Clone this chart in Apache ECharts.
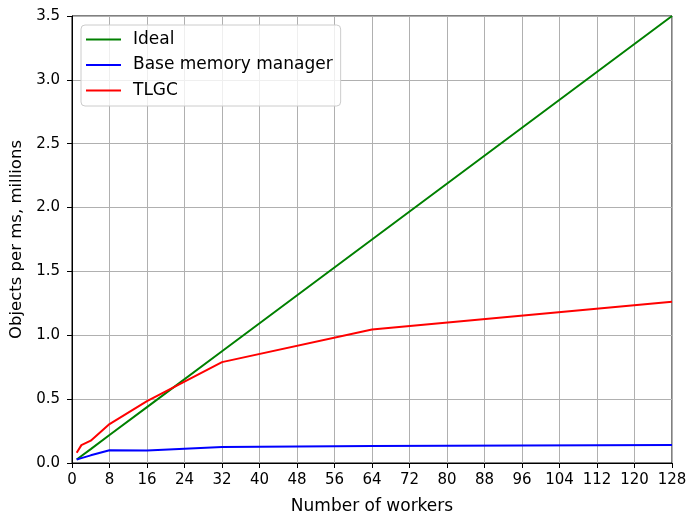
<!DOCTYPE html>
<html>
<head>
<meta charset="utf-8">
<script src="https://cdn.jsdelivr.net/npm/echarts@6/dist/echarts.min.js"></script>
<style>html,body{margin:0;padding:0;background:#fff;}#c{width:689px;height:513px;}</style>
</head>
<body>
<div id="c"></div>
<script>
var workers = [1, 2, 4, 8, 16, 32, 64, 128];
var ideal = [0.0273, 0.0547, 0.109, 0.219, 0.4375, 0.875, 1.75, 3.5];
var base = [0.027, 0.038, 0.06, 0.1, 0.098, 0.125, 0.133, 0.141];
var tlgc = [0.08, 0.14, 0.175, 0.305, 0.485, 0.79, 1.045, 1.263];
var seriesNames = ['Ideal', 'Base memory manager', 'TLGC'];
var seriesColors = ['#008000', '#0000ff', '#ff0000'];
var seriesData = [ideal, base, tlgc];

function pairs(vals) { return workers.map(function (w, i) { return [w, vals[i]]; }); }

var font = 'DejaVu Sans';
var chart = echarts.init(document.getElementById('c'), null, {renderer: 'canvas'});
chart.setOption({
  animation: false,
  backgroundColor: '#fff',
  grid: {left: 72, right: 17, top: 16, bottom: 50, outerBoundsMode: 'none', containLabel: false, show: true, borderColor: '#000', borderWidth: 1, backgroundColor: 'transparent'},
  legend: {
    orient: 'vertical', left: 81, top: 25,
    data: seriesNames,
    icon: 'rect', itemWidth: 35, itemHeight: 2, itemGap: 8.5,
    backgroundColor: 'rgba(255,255,255,0.8)', borderColor: '#cccccc', borderWidth: 1, borderRadius: 4,
    padding: [6, 8, 7, 5],
    textStyle: {fontFamily: font, fontSize: 17, lineHeight: 17, color: '#000', padding: [0, 0, 0, 7]}
  },
  xAxis: {
    type: 'value', min: 0, max: 128, interval: 8,
    name: 'Number of workers', nameLocation: 'middle', nameGap: 35,
    nameTextStyle: {fontFamily: font, fontSize: 17, color: '#000'},
    axisLine: {show: true, lineStyle: {color: '#000', width: 1}},
    axisTick: {show: true, length: 5, lineStyle: {color: '#000'}},
    axisLabel: {fontFamily: font, fontSize: 15, color: '#000', margin: 10},
    splitLine: {show: true, lineStyle: {color: '#b0b0b0', width: 1}}
  },
  yAxis: {
    type: 'value', min: 0, max: 3.5, interval: 0.5,
    name: 'Objects per ms, millions', nameLocation: 'middle', nameGap: 46,
    nameTextStyle: {fontFamily: font, fontSize: 16.5, color: '#000'},
    axisLine: {show: true, lineStyle: {color: '#000', width: 1}},
    axisTick: {show: true, length: 5, lineStyle: {color: '#000'}},
    axisLabel: {fontFamily: font, fontSize: 15, color: '#000', margin: 12, formatter: function (v) { return v.toFixed(1); }},
    splitLine: {show: true, lineStyle: {color: '#b0b0b0', width: 1}}
  },
  series: seriesNames.map(function (n, i) {
    return {
      name: n, type: 'line', data: pairs(seriesData[i]),
      showSymbol: false, symbol: 'none',
      lineStyle: {color: seriesColors[i], width: 2},
      itemStyle: {color: seriesColors[i]},
      clip: true
    };
  })
});
</script>
</body>
</html>
